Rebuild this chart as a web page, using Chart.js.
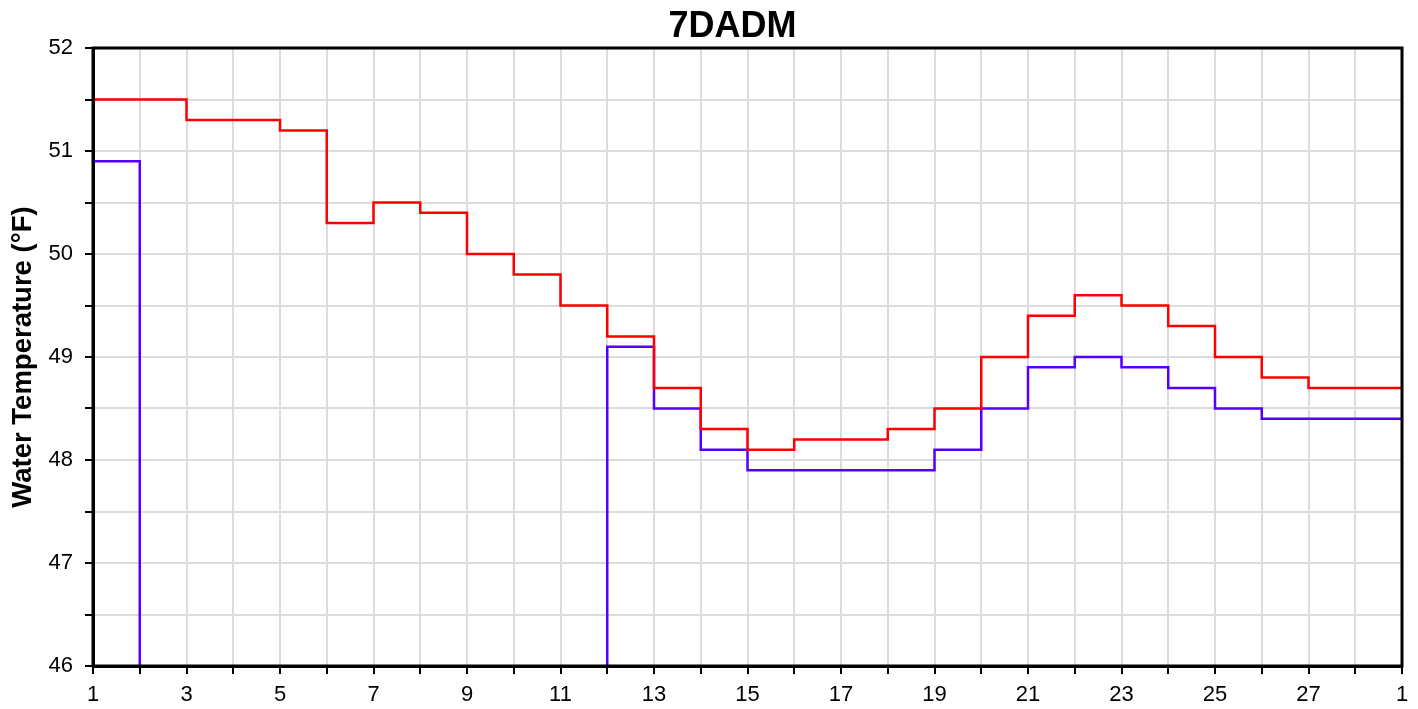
<!DOCTYPE html>
<html lang="en">
<head>
    <meta charset="UTF-8">
    <title>7DADM</title>
    <script src="https://cdn.jsdelivr.net/npm/chart.js"></script>
    <style>
        body { margin: 0; background: #fff; }
        .wrap { width: 1418px; height: 709px; }
    </style>
</head>
<body>
<div class="wrap"><canvas id="tempChart"></canvas></div>
<script>
    // day of month (29 = the 1st of next month, end of last step)
    const days = [1, 2, 3, 4, 5, 6, 7, 8, 9, 10, 11, 12, 13, 14, 15, 16, 17, 18, 19, 20, 21, 22, 23, 24, 25, 26, 27, 28, 29];
    const redSeries = [51.5, 51.5, 51.3, 51.3, 51.2, 50.3, 50.5, 50.4, 50.0, 49.8, 49.5, 49.2, 48.7, 48.3,
        48.1, 48.2, 48.2, 48.3, 48.5, 49.0, 49.4, 49.6, 49.5, 49.3, 49.0, 48.8, 48.7, 48.7, 48.7];
    // days 2-11 are below the axis range
    const blueSeries = [50.9, 0, 0, 0, 0, 0, 0, 0, 0, 0, 0, 49.1, 48.5, 48.1,
        47.9, 47.9, 47.9, 47.9, 48.1, 48.5, 48.9, 49.0, 48.9, 48.7, 48.5, 48.4, 48.4, 48.4, 48.4];
    const yTicks = [46, 47, 48, 49, 50, 51, 52];
    const chartTitle = '7DADM';

    const toPoints = vals => days.map((d, i) => ({ x: d, y: vals[i] }));

    // black frame around the plot area + title a bit right of canvas centre
    const frame = {
        id: 'frame',
        afterDatasetsDraw(chart) {
            const a = chart.chartArea;
            const ctx = chart.ctx;
            ctx.save();
            ctx.strokeStyle = '#000';
            ctx.lineWidth = 3;
            ctx.strokeRect(a.left, a.top, a.right - a.left, a.bottom - a.top);
            ctx.fillStyle = '#000';
            ctx.font = 'bold 36px "Liberation Sans", Arial';
            ctx.textAlign = 'center';
            ctx.textBaseline = 'alphabetic';
            ctx.fillText(chartTitle, (a.left + a.right) / 2 - 15, 37);
            ctx.restore();
        }
    };

    new Chart(document.getElementById('tempChart'), {
        type: 'line',
        data: {
            datasets: [
                { label: 'Max', data: toPoints(redSeries), borderColor: '#ff0000', borderWidth: 2.5, stepped: true, pointRadius: 0, fill: false },
                { label: 'Min', data: toPoints(blueSeries), borderColor: '#5500ff', borderWidth: 2.5, stepped: true, pointRadius: 0, fill: false }
            ]
        },
        plugins: [frame],
        options: {
            responsive: true,
            maintainAspectRatio: false,
            animation: false,
            layout: { padding: { left: 0, right: 16, top: 48, bottom: 0 } },
            plugins: {
                legend: { display: false },
                tooltip: { enabled: false },
                title: { display: false }
            },
            scales: {
                x: {
                    type: 'linear',
                    min: days[0],
                    max: days[days.length - 1],
                    afterFit: s => { s.height = 43; },
                    ticks: {
                        stepSize: 1,
                        autoSkip: false,
                        maxRotation: 0,
                        padding: 8,
                        color: '#000',
                        font: { family: 'Liberation Sans, Arial', size: 22 },
                        callback: v => (v % 2 === 1 ? String(v > 28 ? v - 28 : v) : '')
                    },
                    grid: { color: '#dcdcdc', lineWidth: 2, tickColor: '#000', tickLength: 8, tickWidth: 2 },
                    border: { display: true, color: '#000', width: 3 }
                },
                y: {
                    min: yTicks[0],
                    max: yTicks[yTicks.length - 1],
                    afterFit: s => { s.width = 93; },
                    ticks: {
                        stepSize: 0.5,
                        padding: 12,
                        color: '#000',
                        font: { family: 'Liberation Sans, Arial', size: 22 },
                        callback: v => (yTicks.includes(v) ? String(v) : '')
                    },
                    grid: { color: '#dcdcdc', lineWidth: 2, tickColor: '#000', tickLength: 8, tickWidth: 2 },
                    border: { display: true, color: '#000', width: 3 },
                    title: {
                        display: true,
                        text: 'Water Temperature (°F)',
                        color: '#000',
                        font: { family: 'Liberation Sans, Arial', size: 27.5, weight: 'bold' },
                        padding: { top: 7, bottom: 0 }
                    }
                }
            }
        }
    });
</script>
</body>
</html>
